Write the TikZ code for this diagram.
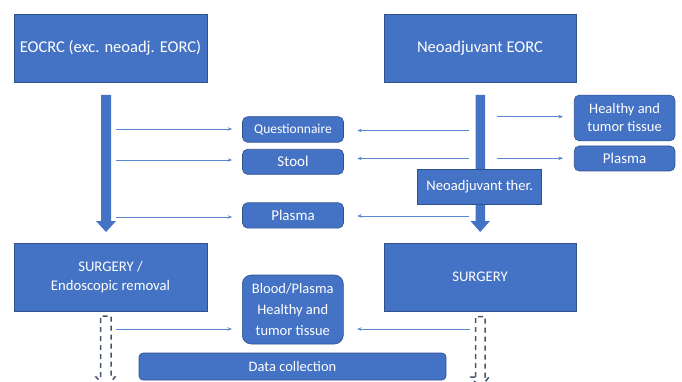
\documentclass[tikz,border=0pt]{standalone}
\usepackage{fontspec}
\setmainfont{Carlito}
\usetikzlibrary{arrows.meta}
\definecolor{obox}{HTML}{4472C4}
\definecolor{oedge}{HTML}{2F528F}
\definecolor{odash}{HTML}{44546A}
\definecolor{oline}{HTML}{5B86D0}
\begin{document}
\begin{tikzpicture}[x=1pt,y=-1pt,
  bigbox/.style={draw=oedge, line width=0.6pt, fill=obox, text=white, inner sep=0pt, align=center, font=\fontsize{16.5}{20}\selectfont},
  rbox/.style={bigbox, rounded corners=5pt, font=\fontsize{15}{18}\selectfont},
  thinarr/.style={draw=oline, line width=0.8pt, -{Stealth[length=4.5pt,width=3.5pt]}},
  thickarr/.style={fill=obox},
  dasharr/.style={draw=odash, line width=1.5pt, dash pattern=on 5pt off 4pt}]
\useasboundingbox (0,0) rectangle (682,382);
\clip (0,0) rectangle (682,382);
% thick arrows
\fill[thickarr] (101,95) -- (111,95) -- (111,221) -- (116,221) -- (106,232) -- (96,221) -- (101,221) -- cycle;
\fill[thickarr] (475.5,95) -- (485,95) -- (485,221) -- (490,221) -- (480.2,232) -- (470.5,221) -- (475.5,221) -- cycle;
% dashed block arrows
\draw[dasharr] (100.5,377) -- (100.5,316) -- (111,316) -- (111,377) -- (115,377) -- (106,388) -- (96,377) -- cycle;
\draw[dasharr] (475.5,377) -- (475.5,316.5) -- (485,316.5) -- (485,377) -- (489,377) -- (480.2,388) -- (471,377) -- cycle;
% nodes
\node[bigbox, minimum width=193pt, minimum height=68pt] (eocrc) at (110.5,48) {EOCRC (exc. neoadj. EORC)};
\node[bigbox, minimum width=192pt, minimum height=68pt] (neo) at (480,48) {Neoadjuvant EORC};
\node[rbox, minimum width=101pt, minimum height=25.5pt, font=\fontsize{13.5}{16}\selectfont] (quest) at (293,129.5) {Questionnaire};
\node[rbox, minimum width=101pt, minimum height=25pt] (stool) at (293,161.8) {Stool};
\node[rbox, minimum width=101pt, minimum height=25.3pt] (plasmaM) at (293,215.4) {Plasma};
\node[rbox, minimum width=100.7pt, minimum height=45.7pt, font=\fontsize{14.5}{18}\selectfont] (tissue) at (624.6,118) {Healthy and\\tumor tissue};
\node[rbox, minimum width=100.7pt, minimum height=25pt] (plasmaR) at (624.6,158.5) {Plasma};
\node[bigbox, minimum width=124pt, minimum height=34.7pt, font=\fontsize{14.6}{18}\selectfont] (ther) at (479.7,186.6) {Neoadjuvant ther.};
\node[bigbox, minimum width=193pt, minimum height=68pt, font=\fontsize{14.7}{19.5}\selectfont] (surgL) at (110.5,277) {SURGERY /\\Endoscopic removal};
\node[bigbox, minimum width=192pt, minimum height=68pt, font=\fontsize{14.7}{18}\selectfont] (surgR) at (480,277) {SURGERY};
\node[rbox, minimum width=101pt, minimum height=69pt, rounded corners=9pt, font=\fontsize{14.5}{21}\selectfont] (blood) at (292.8,309.5) {Blood/Plasma\\Healthy and\\tumor tissue};
\node[rbox, minimum width=307pt, minimum height=27pt, rounded corners=4pt, font=\fontsize{14.5}{18}\selectfont] (data) at (292.5,366.5) {Data collection};
% free ends of connectors
\coordinate (l1) at (116,129);
\coordinate (l2) at (116,160);
\coordinate (l3) at (116,217);
\coordinate (l4) at (116,329);
\coordinate (r1) at (469,130.5);
\coordinate (r2) at (469,158.5);
\coordinate (r3) at (469,216);
\coordinate (r4) at (470,329);
\coordinate (s1) at (497,116.7);
\coordinate (s2) at (497,158.3);
% thin arrows
\draw[thinarr, shorten >=10pt] (l1) -- (l1 -| quest.west);
\draw[thinarr, shorten >=10pt] (l2) -- (l2 -| stool.west);
\draw[thinarr, shorten >=10pt] (l3) -- (l3 -| plasmaM.west);
\draw[thinarr, shorten >=10pt] (l4) -- (l4 -| blood.west);
\draw[thinarr, shorten >=13.5pt] (r1) -- (r1 -| quest.east);
\draw[thinarr, shorten >=13.5pt] (r2) -- (r2 -| stool.east);
\draw[thinarr, shorten >=13.5pt] (r3) -- (r3 -| plasmaM.east);
\draw[thinarr, shorten >=13.5pt] (r4) -- (r4 -| blood.east);
\draw[thinarr, shorten >=11pt] (s1) -- (s1 -| tissue.west);
\draw[thinarr, shorten >=11pt] (s2) -- (s2 -| plasmaR.west);
\end{tikzpicture}
\end{document}
